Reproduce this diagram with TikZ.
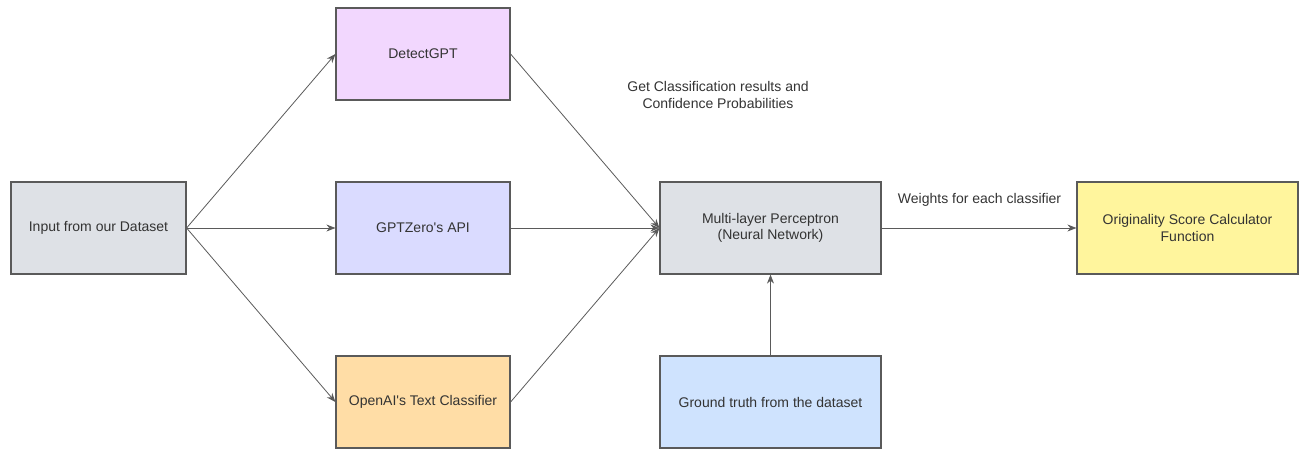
\documentclass[tikz,border=0pt]{standalone}
\usepackage{fontspec}
\setmainfont{Liberation Sans}
\usepackage{tikz}
\usetikzlibrary{arrows,arrows.meta,shapes}
\usetikzlibrary{calc}

\definecolor{boxgray}{HTML}{DEE1E6}
\definecolor{boxpink}{HTML}{F2D7FE}
\definecolor{boxlav}{HTML}{DADBFF}
\definecolor{boxpeach}{HTML}{FFDDA6}
\definecolor{boxblue}{HTML}{CFE3FE}
\definecolor{boxyellow}{HTML}{FFF59D}
\definecolor{edgegray}{HTML}{5A5A5A}
\definecolor{txtgray}{HTML}{333333}

\tikzset{
	block/.style={draw=edgegray, line width=1.2pt, minimum height=92pt, text=txtgray,
		font=\fontsize{14}{16.5}\selectfont, align=center, inner sep=0pt},
	flow/.style={draw=edgegray, line width=0.8pt, -{Stealth[length=9pt,width=7pt]}}
}

\begin{document}
\begin{tikzpicture}[x=1pt, y=1pt]
	\useasboundingbox (0,0) rectangle (1308,459);
	\node[block, fill=boxgray, minimum width=175pt] (input) at (98.5,231) {Input from our Dataset};
	\node[block, fill=boxpink, minimum width=174pt] (detect) at (423,405) {DetectGPT};
	\node[block, fill=boxlav, minimum width=174pt] (gptzero) at (423,231) {GPTZero\textquotesingle s API};
	\node[block, fill=boxpeach, minimum width=174pt] (openai) at (423,57) {OpenAI\textquotesingle s Text Classifier};
	\node[block, fill=boxgray, minimum width=221pt] (mlp) at (770.5,231) {Multi-layer Perceptron\\(Neural Network)};
	\node[block, fill=boxblue, minimum width=221pt] (truth) at (770.5,57) {Ground truth from the dataset};
	\node[block, fill=boxyellow, minimum width=221pt] (orig) at (1187.5,231) {Originality Score Calculator\\Function};

	\foreach \target in {detect, gptzero, openai}
		\draw[flow] (input.east) -- (\target.west);
	\foreach \source in {detect, gptzero, openai}
		\draw[flow] (\source.east) -- (mlp.west);
	\draw[flow] (truth.north) -- (mlp.south);
	\draw[flow] (mlp.east) -- (orig.west);

	\node[text=txtgray, font=\fontsize{14}{16.5}\selectfont, align=center] (getlabel) at (718,364) {Get Classification results and\\Confidence Probabilities};
	\node[text=txtgray, font=\fontsize{14}{16.5}\selectfont] (wlabel) at (979.5,259) {Weights for each classifier};
\end{tikzpicture}
\end{document}
